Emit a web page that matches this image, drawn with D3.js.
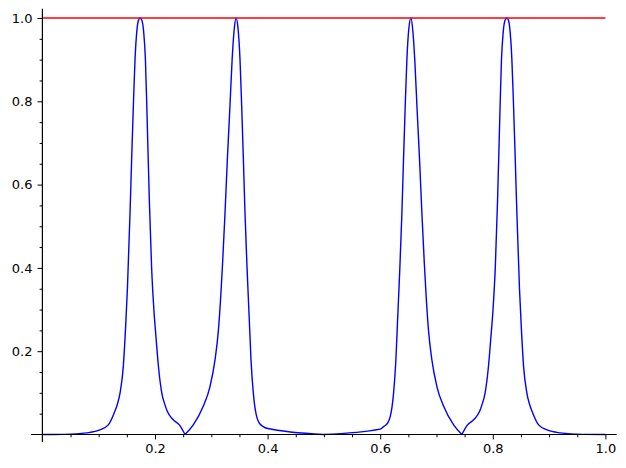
<!DOCTYPE html>
<html>
<head>
<meta charset="utf-8">
<script src="https://cdnjs.cloudflare.com/ajax/libs/d3/7.8.5/d3.min.js"></script>
<style>
  body { margin: 0; background: #fff; }
  svg { display: block; }
  .tick text { font-family: "DejaVu Sans", sans-serif; fill: #000; }
</style>
</head>
<body>
<div id="chart"></div>
<script>
// blue curve
var curveX = [0, 0.04, 0.079, 0.102, 0.117, 0.127, 0.133, 0.1378, 0.1437, 0.1475, 0.151, 0.1556, 0.1585, 0.1615, 0.1645, 0.1675, 0.1705, 0.1734,
    0.1765, 0.18, 0.183, 0.186, 0.19, 0.194, 0.198, 0.202, 0.206, 0.212, 0.218, 0.222, 0.232, 0.244, 0.2533,
    0.268, 0.2855, 0.2977, 0.3066, 0.3126, 0.3167, 0.32, 0.3243, 0.3285, 0.3332, 0.337, 0.3405, 0.3439,
    0.3475, 0.351, 0.354, 0.357, 0.3599, 0.3635, 0.3675, 0.3705, 0.3746, 0.3775, 0.3806, 0.385, 0.3924, 0.3984, 0.4992,
    0.6, 0.606, 0.6134, 0.6178, 0.6209, 0.6238, 0.6279, 0.6309, 0.6349, 0.6385, 0.6414, 0.6444, 0.6474, 0.6509, 0.6545,
    0.6579, 0.6614, 0.6652, 0.6699, 0.6741, 0.6784, 0.6817, 0.6858, 0.6918, 0.7007, 0.7129, 0.7304, 0.7451,
    0.7544, 0.7664, 0.7764, 0.7804, 0.7864, 0.7924, 0.7964, 0.8004, 0.8044, 0.8084, 0.8124, 0.8154, 0.8184, 0.8219, 0.825,
    0.8279, 0.8309, 0.8339, 0.8369, 0.8399, 0.8428, 0.8474, 0.8509, 0.8547, 0.8606, 0.8654, 0.8714, 0.8814, 0.8964, 0.9194, 0.9584, 1.0];
var curveY = [0, 0.0003, 0.004, 0.011, 0.023, 0.05, 0.072, 0.099, 0.163, 0.25, 0.35, 0.53, 0.66, 0.787, 0.9, 0.965, 0.994, 1.0,
    0.995, 0.965, 0.9, 0.76, 0.56, 0.4, 0.3, 0.23, 0.165, 0.1, 0.07, 0.055, 0.036, 0.022, 0,
    0.023, 0.067, 0.115, 0.179, 0.25, 0.33, 0.41, 0.53, 0.66, 0.79, 0.9, 0.97, 1.0,
    0.975, 0.9, 0.787, 0.66, 0.53, 0.4, 0.275, 0.18, 0.1, 0.065, 0.043, 0.028, 0.019, 0.015, 0,
    0.013, 0.019, 0.028, 0.043, 0.065, 0.1, 0.18, 0.275, 0.4, 0.53, 0.66, 0.787, 0.9, 0.975, 1.0,
    0.97, 0.9, 0.79, 0.66, 0.53, 0.41, 0.33, 0.25, 0.179, 0.115, 0.067, 0.023, 0,
    0.022, 0.036, 0.055, 0.07, 0.1, 0.165, 0.23, 0.3, 0.4, 0.56, 0.76, 0.9, 0.965, 0.995, 1.0,
    0.994, 0.965, 0.9, 0.787, 0.66, 0.53, 0.35, 0.25, 0.163, 0.099, 0.072, 0.05, 0.023, 0.011, 0.004, 0.0003, 0];

// red reference line at y = 1
var refX = [0, 1];
var refY = [1, 1];

var majorTicks = [0.2, 0.4, 0.6, 0.8, 1.0];
var minorTicks = [0.05, 0.1, 0.15, 0.25, 0.3, 0.35, 0.45, 0.5, 0.55, 0.65, 0.7, 0.75, 0.85, 0.9, 0.95];

var width = 626, height = 468;

var x = d3.scaleLinear().domain([0, 1]).range([42.4, 605.4]);
var y = d3.scaleLinear().domain([0, 1]).range([434.5, 18]);

var svg = d3.select("#chart").append("svg")
    .attr("width", width)
    .attr("height", height);

var smooth = d3.line()
    .x(d => x(d[0]))
    .y(d => y(d[1]))
    .curve(d3.curveMonotoneX);

var straight = d3.line()
    .x(d => x(d[0]))
    .y(d => y(d[1]));

// split the curve at its zeros (cusps) so they stay sharp
var pts = d3.zip(curveX, curveY);
var pieces = [], cur = [pts[0]];
for (var i = 1; i < pts.length; i++) {
    cur.push(pts[i]);
    if (pts[i][1] === 0 && i < pts.length - 1) {
        pieces.push(cur);
        cur = [pts[i]];
    }
}
pieces.push(cur);

svg.append("path")
    .attr("fill", "none")
    .attr("stroke", "#0000ff")
    .attr("stroke-width", 1.4)
    .attr("stroke-linejoin", "round")
    .attr("d", pieces.map(p => smooth(p)).join(""));

svg.append("path")
    .datum(d3.zip(refX, refY))
    .attr("fill", "none")
    .attr("stroke", "#ff0000")
    .attr("stroke-width", 1.4)
    .attr("d", straight);

// axes cross at the origin, spines a bit longer than the data
svg.append("line")
    .attr("x1", x(-0.02)).attr("x2", x(1.02))
    .attr("y1", y(0)).attr("y2", y(0))
    .attr("stroke", "#000").attr("stroke-width", 1.2);

svg.append("line")
    .attr("x1", x(0)).attr("x2", x(0))
    .attr("y1", y(-0.018)).attr("y2", y(1.022))
    .attr("stroke", "#000").attr("stroke-width", 1.2);

var fmt = d3.format(".1f");

function styleAxis(g) {
    g.select(".domain").remove();
    g.selectAll(".tick line").attr("stroke", "#000").attr("stroke-width", 1);
    g.selectAll(".tick text").attr("font-size", 13);
}

svg.append("g")
    .attr("transform", "translate(0," + y(0) + ")")
    .call(d3.axisBottom(x).tickValues(majorTicks).tickSize(4.9).tickPadding(4.5).tickFormat(fmt))
    .call(styleAxis);

svg.append("g")
    .attr("transform", "translate(0," + y(0) + ")")
    .call(d3.axisBottom(x).tickValues(minorTicks).tickSize(2.8).tickFormat(""))
    .call(styleAxis);

svg.append("g")
    .attr("transform", "translate(" + x(0) + ",0)")
    .call(d3.axisLeft(y).tickValues(majorTicks).tickSize(4.9).tickPadding(5).tickFormat(fmt))
    .call(styleAxis);

svg.append("g")
    .attr("transform", "translate(" + x(0) + ",0)")
    .call(d3.axisLeft(y).tickValues(minorTicks).tickSize(2.8).tickFormat(""))
    .call(styleAxis);
</script>
</body>
</html>
